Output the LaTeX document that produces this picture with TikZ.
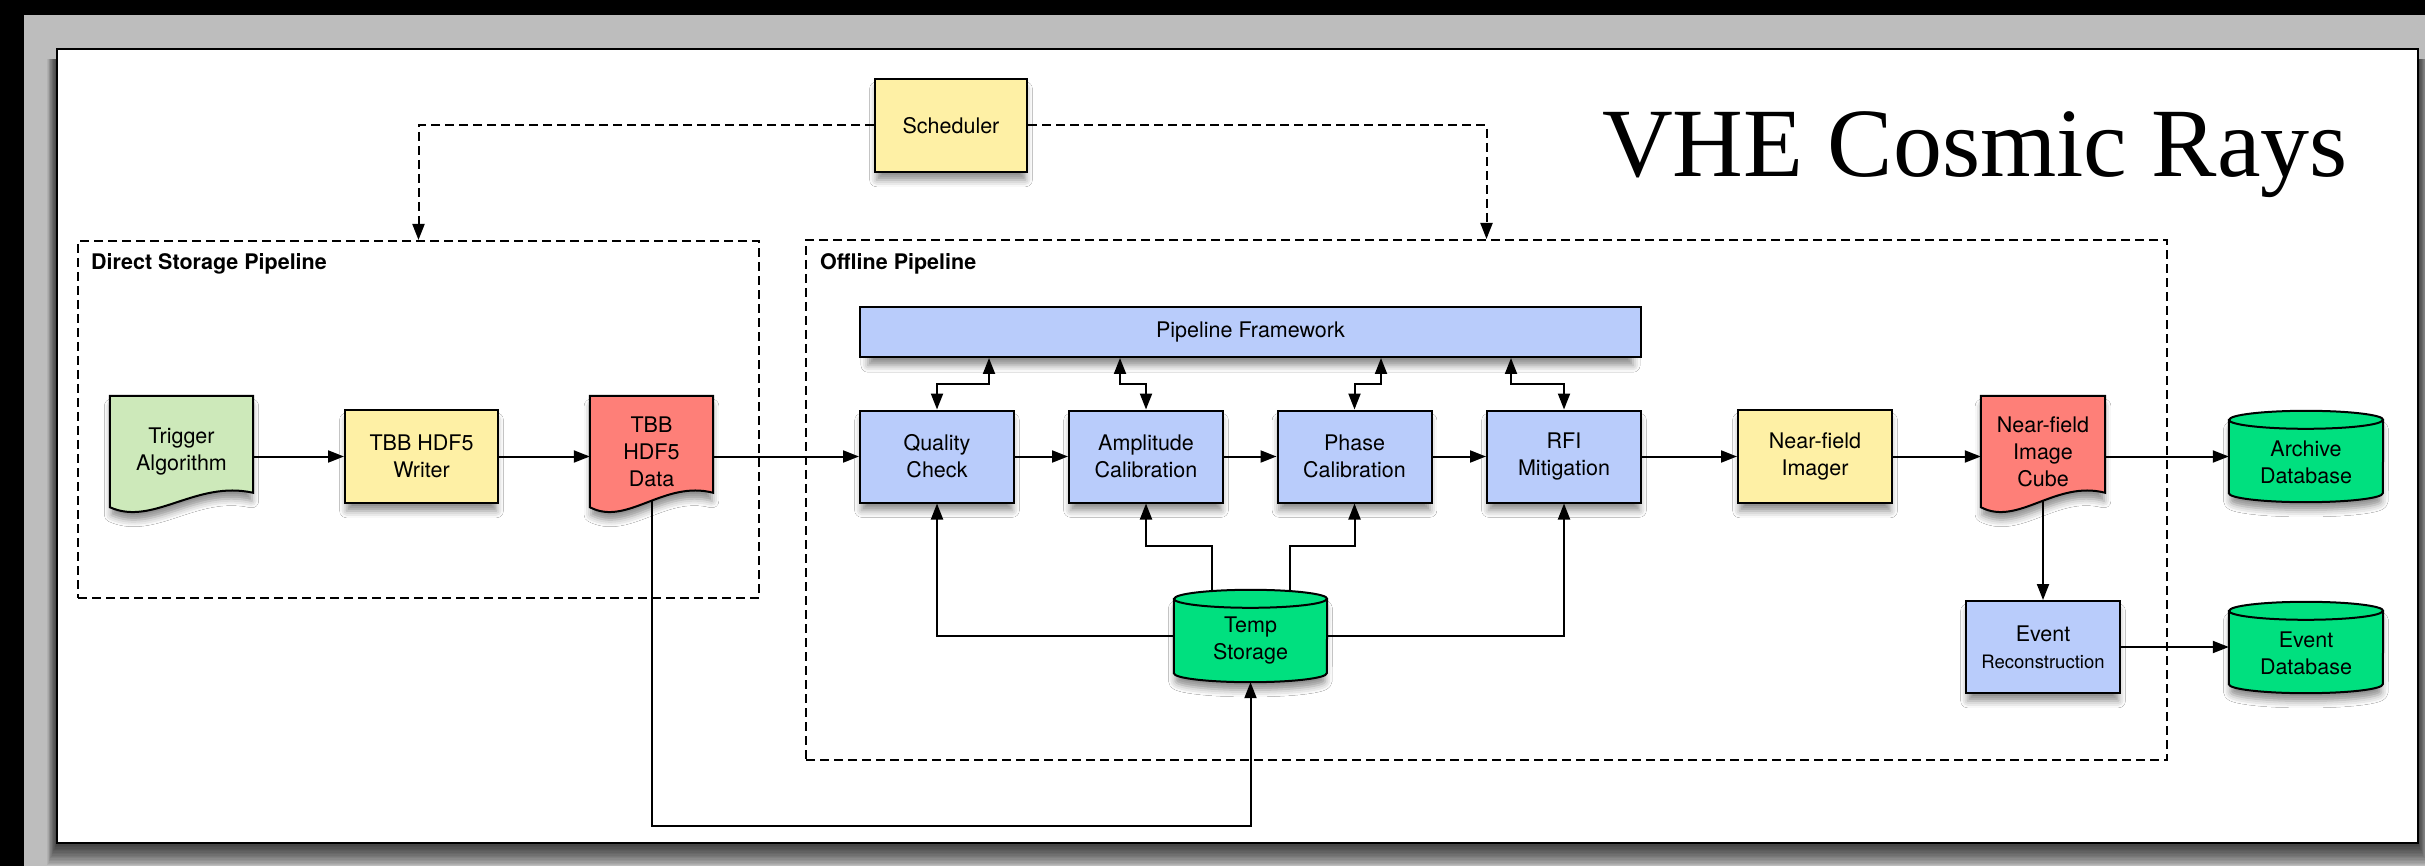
\documentclass[tikz,border=0pt]{standalone}
\usepackage{fontspec}
\setmainfont{TeX Gyre Heros}
\newfontfamily\titlefont{Liberation Serif}
\usetikzlibrary{arrows.meta,calc,shadows.blur}

\pgfdeclarelayer{bg}
\pgfdeclarelayer{edges}
\pgfsetlayers{bg,edges,main}

\definecolor{framegray}{HTML}{BDBDBD}
\definecolor{procyellow}{HTML}{FEF0A5}
\definecolor{procblue}{HTML}{B9CCFB}
\definecolor{docgreen}{HTML}{CDE9BA}
\definecolor{docred}{HTML}{FE7F78}
\definecolor{dbgreen}{HTML}{00E07F}

\tikzset{
  lbl/.style={font=\fontsize{21.5pt}{27pt}\selectfont, align=center},
  softshadow/.style={blur shadow={shadow xshift=0pt, shadow yshift=-9pt,
      shadow blur radius=7pt, shadow opacity=45, shadow scale=0.98}},
  proc/.style={lbl, draw=black, line width=2pt, inner sep=0pt,
      minimum width=154pt, minimum height=92pt, softshadow},
  holder/.style={inner sep=0pt},
  outline/.style={draw=black, line width=2pt},
  flow/.style={draw=black, line width=2pt, -{Triangle[length=16pt,width=12pt]}},
  twoway/.style={draw=black, line width=2pt,
      {Triangle[length=16pt,width=12pt]}-{Triangle[length=16pt,width=12pt]}},
  ctrl/.style={draw=black, line width=2pt, dash pattern=on 9pt off 5pt,
      -{Triangle[length=16pt,width=12pt]}},
  group/.style={draw=black, line width=2pt, dash pattern=on 9pt off 5pt, inner sep=0pt},
  grouptitle/.style={font=\fontsize{21.5pt}{26pt}\selectfont\bfseries,
      anchor=base west, inner sep=0pt},
}

% document symbol with a wavy lower edge, drawn round an empty holder node
\newcommand\docshape[2]{%
  \path[outline, fill=#2, softshadow]
    (#1.north west) -- (#1.north east) -- ($(#1.north east)+(0,97)$)
    .. controls ($(#1.north west)!0.6!(#1.north east)+(0,84)$)
           and ($(#1.north west)!0.3!(#1.north east)+(0,131)$) .. (#1.south west)
    -- cycle;}

% database cylinder drawn round an empty holder node
\newcommand\dbshape[2]{%
  \path[outline, fill=dbgreen, softshadow]
    ($(#1.north west)+(0,9)$) -- ($(#1.south west)+(0,-9)$)
    arc[start angle=180, end angle=360, x radius=#2, y radius=9pt]
    -- ($(#1.north east)+(0,9)$)
    arc[start angle=0, end angle=180, x radius=#2, y radius=9pt] -- cycle;
  \draw[outline] ($(#1.north west)+(0,9)$)
    arc[start angle=180, end angle=360, x radius=#2, y radius=9pt];}

\begin{document}
\begin{tikzpicture}[x=1pt, y=-1pt]
\useasboundingbox (0,0) rectangle (2425,866);

% ---------- title ----------
\node[font=\titlefont\fontsize{98pt}{100pt}\selectfont, anchor=base, inner sep=0pt]
  (title) at (1975,177) {VHE Cosmic Rays};

% ---------- process boxes ----------
\node[proc, fill=procyellow, minimum width=152pt, minimum height=93pt] (sched) at (951,125.5) {Scheduler};
\node[proc, fill=procyellow, minimum width=153pt, minimum height=93pt] (writer) at (421.5,456.5) {TBB HDF5\\Writer};
\node[proc, fill=procblue, minimum width=781pt, minimum height=50pt] (pf) at (1250.5,332) {Pipeline Framework};
\node[proc, fill=procblue] (qc) at (937,456.5) {Quality\\Check};
\node[proc, fill=procblue] (amp) at (1146,456.5) {Amplitude\\Calibration};
\node[proc, fill=procblue] (phase) at (1354.5,456.5) {Phase\\Calibration};
\node[proc, fill=procblue] (rfi) at (1564,456.5) {RFI\\Mitigation};
\node[proc, fill=procyellow, minimum height=93pt] (imager) at (1815,456.5) {Near-field\\Imager};
\node[proc, fill=procblue] (er) at (2043,647) {Event\\{\fontsize{18.5pt}{22pt}\selectfont Reconstruction}};

% ---------- documents and stores: frames first, then outline, then text ----------
\node[holder, minimum width=143pt, minimum height=111pt] (trig) at (181.5,451.5) {};
\node[holder, minimum width=123pt, minimum height=111pt] (data) at (651.5,451.5) {};
\node[holder, minimum width=124pt, minimum height=111pt] (cube) at (2043,451.5) {};
\node[holder, minimum width=153pt, minimum height=92pt] (temp) at (1250.5,636) {};
\node[holder, minimum width=154pt, minimum height=91pt] (archive) at (2306,456.5) {};
\node[holder, minimum width=154pt, minimum height=91pt] (eventdb) at (2306,647.5) {};

\docshape{trig}{docgreen}
\docshape{data}{docred}
\docshape{cube}{docred}
\dbshape{temp}{76.5pt}
\dbshape{archive}{77pt}
\dbshape{eventdb}{77pt}

\node[lbl, inner sep=0pt] (triglbl) at (trig.center) {Trigger\\Algorithm};
\node[lbl, inner sep=0pt] (datalbl) at (data.center) {TBB\\HDF5\\Data};
\node[lbl, inner sep=0pt] (cubelbl) at (cube.center) {Near-field\\Image\\Cube};
\node[lbl, inner sep=0pt] (templbl) at ($(temp.center)+(0,5)$) {Temp\\Storage};
\node[lbl, inner sep=0pt] (archivelbl) at ($(archive.center)+(0,5.5)$) {Archive\\Database};
\node[lbl, inner sep=0pt] (eventdblbl) at ($(eventdb.center)+(0,5.5)$) {Event\\Database};

% ---------- window frame and white sheet (bottom layer) ----------
\begin{pgfonlayer}{bg}
  \fill[framegray] (0,0) rectangle (2425,866);
  \fill[black] (0,0) rectangle (24,866);
  \fill[black] (0,0) rectangle (2425,15);
  % soft shadow under the sheet, built from stacked translucent rectangles
  \foreach \k in {1,...,16}{
    \fill[black, opacity=0.06] (57-0.6*\k,59) rectangle (2418+0.6*\k,843+1.4*\k);
  }
  \path[fill=white, draw=black, line width=2.5pt] (57,49) rectangle (2418,843);
\end{pgfonlayer}

% ---------- groups and connectors ----------
\begin{pgfonlayer}{edges}
  \node[group, minimum width=681pt, minimum height=357pt] (dsp) at (418.5,419.5) {};
  \node[group, minimum width=1361pt, minimum height=520pt] (off) at (1486.5,500) {};
  \node[grouptitle] (dsptitle) at ($(dsp.north west)+(14,30)$) {Direct Storage Pipeline};
  \node[grouptitle] (offtitle) at ($(off.north west)+(15,31)$) {Offline Pipeline};

  % scheduler control
  \draw[ctrl] (sched.west) -| (dsp.north);
  \draw[ctrl] (sched.east) -| (off.north);

  % main data flow
  \draw[flow] (trig.east |- writer.west) -- (writer.west);
  \draw[flow] (writer.east) -- (data.west |- writer.east);
  \draw[flow] (data.east |- qc.west) -- (qc.west);
  \draw[flow] (qc.east) -- (amp.west);
  \draw[flow] (amp.east) -- (phase.west);
  \draw[flow] (phase.east) -- (rfi.west);
  \draw[flow] (rfi.east) -- (imager.west);
  \draw[flow] (imager.east) -- (cube.west |- imager.east);
  \draw[flow] (cube.east |- archive.west) -- (archive.west);
  \draw[flow] (cube.center) -- (er.north);
  \draw[flow] (er.east) -- (eventdb.west |- er.east);

  % framework links
  \coordinate (fq) at (989,357);
  \coordinate (fa) at (1120,357);
  \coordinate (fp) at (1381,357);
  \coordinate (fr) at (1511,357);
  \draw[twoway] (fq |- pf.south) -- ++(0,26) -| (qc.north);
  \draw[twoway] (fa |- pf.south) -- ++(0,26) -| (amp.north);
  \draw[twoway] (fp |- pf.south) -- ++(0,26) -| (phase.north);
  \draw[twoway] (fr |- pf.south) -- ++(0,26) -| (rfi.north);

  % temporary storage links
  \coordinate (ta) at (1212,546);
  \coordinate (tb) at (1290,546);
  \draw[flow] (temp.west) -| (qc.south);
  \draw[flow] (temp.east) -| (rfi.south);
  \draw[flow] (ta |- temp.north) -- (ta) -| (amp.south);
  \draw[flow] (tb |- temp.north) -- (tb) -| (phase.south);

  % raw data into temporary storage
  \coordinate (lowrun) at (651.5,826);
  \draw[flow] (data.center) -- (lowrun) -| (temp.south);
\end{pgfonlayer}
\end{tikzpicture}
\end{document}
